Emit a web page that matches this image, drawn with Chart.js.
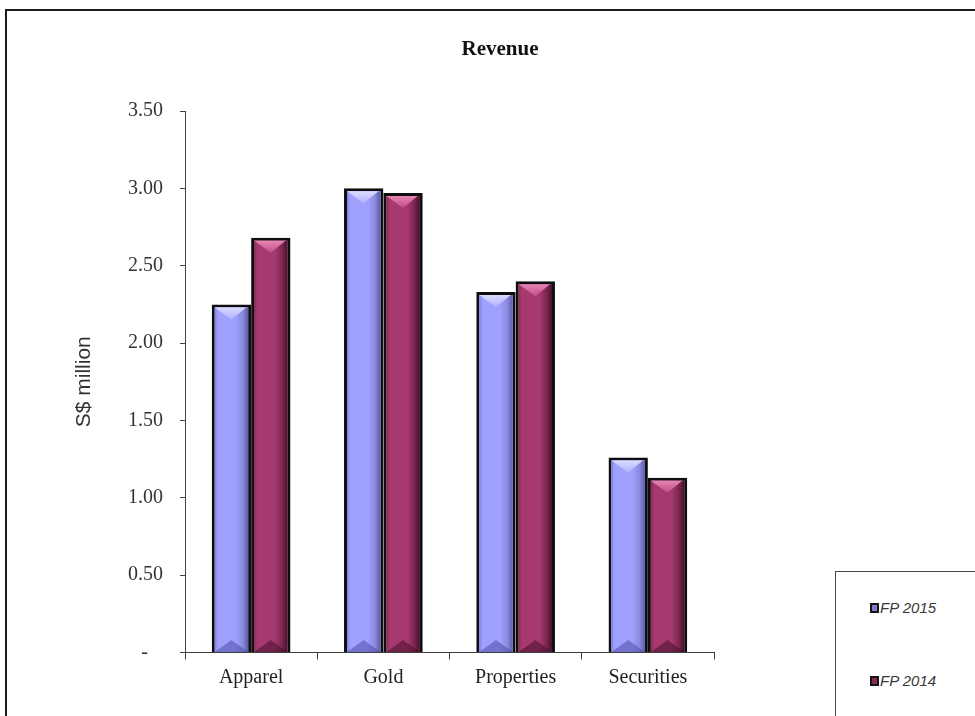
<!DOCTYPE html>
<html>
<head>
<meta charset="utf-8">
<title>Revenue</title>
<script src="https://cdn.jsdelivr.net/npm/chart.js@4.4.0/dist/chart.umd.min.js"></script>
<style>
  html, body { margin: 0; padding: 0; background: #fff; width: 975px; height: 716px; overflow: hidden; }
  #frame { position: absolute; left: 5px; top: 9px; width: 1040px; height: 780px; border: 2px solid #1a1a1a; }
  #chart { position: absolute; left: 0; top: 0; }
  #legend { position: absolute; left: 835px; top: 571px; width: 220px; height: 220px;
            border: 1.5px solid #4a4a4a; background: #fff; }
  .item { position: absolute; left: 34px; display: flex; align-items: center;
          font: italic 15px "Liberation Sans", Arial, sans-serif; color: #3a3a3a; }
  .sw { display: inline-block; width: 5px; height: 6px; border: 2px solid #141414; margin-right: 1px; }
</style>
</head>
<body>
<div id="frame"></div>
<canvas id="chart" width="975" height="716"></canvas>
<div id="legend"></div>
<script>
// Revenue by segment, S$ million
const chartTitle = 'Revenue';
const axisTitle = 'S$ million';
const categories = ['Apparel', 'Gold', 'Properties', 'Securities'];
const seriesNames = ['FP 2015', 'FP 2014'];
const fp2015 = [2.25, 3.00, 2.33, 1.26];
const fp2014 = [2.68, 2.97, 2.40, 1.13];
const yMin = 0, yMax = 3.5, yStep = 0.5;

// Shading for the bevelled bars and the legend swatches
const palettes = [
  { base: '#9999ff', face: '#a0a0ff', edge: '#8282e0', shade: '#8a8ae0', dark: '#5c5ca6',
    capTop: '#dcdcff', capBot: '#b0b0ff', foot: 'rgba(70,70,160,0.5)', swatch: '#7b7bd4' },
  { base: '#993366', face: '#a63a70', edge: '#8a2a5a', shade: '#7c2652', dark: '#46102c',
    capTop: '#e586b4', capBot: '#c24c88', foot: 'rgba(60,10,35,0.5)', swatch: '#8a2a5a' }
];
const barBorder = 3;

const serif = '"Liberation Serif", "Times New Roman", serif';
const sans = '"Liberation Sans", Arial, sans-serif';

// Draws the chart heading centred over the framed area
const heading = {
  id: 'heading',
  afterDraw(chart) {
    const ctx = chart.ctx;
    ctx.save();
    ctx.font = 'bold 21px ' + serif;
    ctx.fillStyle = '#111';
    ctx.textAlign = 'center';
    ctx.textBaseline = 'middle';
    ctx.fillText(chartTitle, 500, 50);
    ctx.restore();
  }
};

// Paints a bevelled, lit face over each bar inside its border
const bevel = {
  id: 'bevel',
  afterDatasetsDraw(chart) {
    const ctx = chart.ctx;
    chart.data.datasets.forEach((ds, di) => {
      const meta = chart.getDatasetMeta(di);
      const pal = palettes[di];
      meta.data.forEach(bar => {
        const p = bar.getProps(['x', 'y', 'base', 'width'], true);
        const bw = barBorder;
        const l = p.x - p.width / 2 + bw, r = p.x + p.width / 2 - bw;
        const t = p.y + bw, b = p.base;
        const w = r - l, h = b - t;
        if (w <= 0 || h <= 0) return;
        const mid = (l + r) / 2;
        const d = Math.min(w * 0.36, h / 2);
        ctx.save();
        // side-to-side lighting
        const g = ctx.createLinearGradient(l, 0, r, 0);
        g.addColorStop(0, pal.edge);
        g.addColorStop(0.1, pal.face);
        g.addColorStop(0.62, pal.face);
        g.addColorStop(0.84, pal.shade);
        g.addColorStop(1, pal.dark);
        ctx.fillStyle = g;
        ctx.fillRect(l, t, w, h);
        // top cap
        const gc = ctx.createLinearGradient(0, t, 0, t + d);
        gc.addColorStop(0, pal.capTop);
        gc.addColorStop(1, pal.capBot);
        ctx.fillStyle = gc;
        ctx.beginPath();
        ctx.moveTo(l, t);
        ctx.lineTo(r - 2, t);
        ctx.lineTo(mid, t + d);
        ctx.closePath();
        ctx.fill();
        // darker foot
        ctx.fillStyle = pal.foot;
        ctx.beginPath();
        ctx.moveTo(l, b);
        ctx.lineTo(r, b);
        ctx.lineTo(mid, b - d);
        ctx.closePath();
        ctx.fill();
        ctx.restore();
      });
    });
  }
};

const chart = new Chart(document.getElementById('chart'), {
  type: 'bar',
  data: {
    labels: categories,
    datasets: [
      { label: seriesNames[0], data: fp2015 },
      { label: seriesNames[1], data: fp2014 }
    ].map((ds, i) => Object.assign(ds, {
      backgroundColor: palettes[i].base,
      borderColor: '#0e0e0e',
      borderWidth: barBorder,
      categoryPercentage: 0.595,
      barPercentage: 1.0
    }))
  },
  options: {
    responsive: false,
    animation: false,
    devicePixelRatio: 1,
    layout: { padding: { top: 111, left: 0, right: 261, bottom: 0 } },
    plugins: {
      legend: { display: false },
      tooltip: { enabled: false },
      title: { display: false }
    },
    scales: {
      x: {
        z: 1,
        grid: { display: true, drawOnChartArea: false, drawTicks: true, tickLength: 7, color: '#404040', lineWidth: 1 },
        border: { display: true, color: '#404040', width: 1 },
        ticks: { font: { family: serif, size: 20 }, color: '#222', padding: 6 },
        afterFit(scale) { scale.height = 716 - 652.5; }
      },
      y: {
        min: yMin,
        max: yMax,
        grid: { display: true, drawOnChartArea: false, drawTicks: true, tickLength: 5, color: '#404040', lineWidth: 1 },
        border: { display: true, color: '#404040', width: 1 },
        ticks: {
          stepSize: yStep,
          padding: 17,
          font: { family: serif, size: 20 },
          color: '#333',
          callback: v => v === 0 ? '-   ' : Number(v).toFixed(2)
        },
        title: {
          display: true,
          text: axisTitle,
          font: { family: sans, size: 21 },
          color: '#333',
          padding: { top: 72, bottom: 0 }
        },
        afterFit(scale) { scale.width = 185; }
      }
    }
  },
  plugins: [bevel, heading]
});

// Legend entries built from the datasets
const legend = document.getElementById('legend');
const rowTops = [27, 100];
chart.data.datasets.forEach((ds, i) => {
  const item = document.createElement('div');
  item.className = 'item';
  item.style.top = rowTops[i] + 'px';
  const sw = document.createElement('span');
  sw.className = 'sw';
  sw.style.background = palettes[i].swatch;
  item.appendChild(sw);
  item.appendChild(document.createTextNode(ds.label));
  legend.appendChild(item);
});
</script>
</body>
</html>
